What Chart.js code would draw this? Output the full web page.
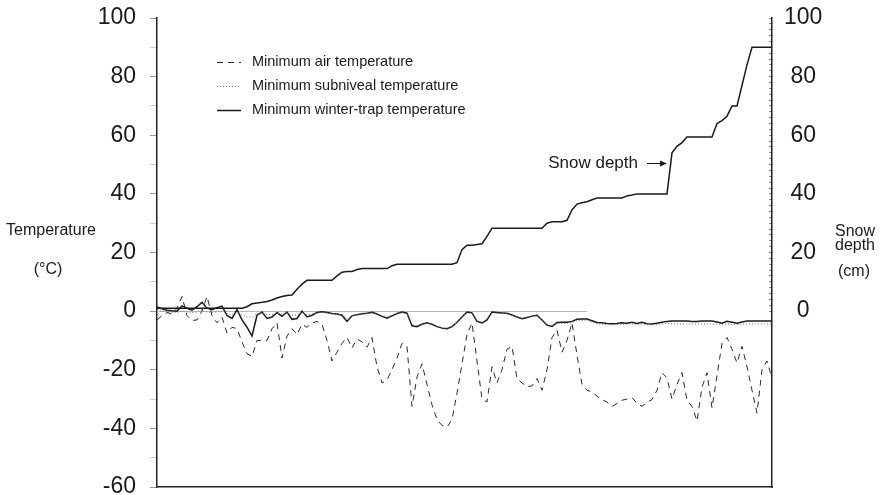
<!DOCTYPE html>
<html>
<head>
<meta charset="utf-8">
<script src="https://cdn.jsdelivr.net/npm/chart.js@4/dist/chart.umd.min.js"></script>
<style>
  html, body { margin: 0; padding: 0; background: #fff; }
  #wrap { width: 884px; height: 495px; }
</style>
</head>
<body>
<div id="wrap"><canvas id="c" width="884" height="495"></canvas></div>
<script>
// ---- data ----
const dayCount = 124;
const days = Array.from({length: dayCount}, (_, i) => i + 1);

const snowDepth = [
  1,1,1,1,1,1,1,1,1,1,
  1,1,1,1,1,1,1,1,1.5,2.5,
  2.8,3,3.3,3.8,4.5,5,5.3,5.5,7.5,9.2,
  10.5,10.5,10.5,10.5,10.5,10.5,12,13.3,13.5,13.5,
  14.2,14.5,14.5,14.5,14.5,14.5,14.5,15.5,16,16,
  16,16,16,16,16,16,16,16,16,16,
  16.5,21,22.5,22.5,22.7,23,25.5,28.3,28.3,28.3,
  28.3,28.3,28.3,28.3,28.3,28.3,28.3,28.3,30,30.5,
  30.5,30.5,31,34.5,36.5,37,37.3,38,38.6,38.6,
  38.6,38.6,38.6,38.6,39.3,39.6,40,40,40,40,
  40,40,40,54,56.2,57.5,59.4,59.4,59.4,59.4,
  59.4,59.4,64,65,66.5,70,70,77,84,90,
  90,90,90,90
];

const airTemp = [
  -3,-1.5,-0.5,-1,1,5,-1.5,-3.2,-3,0,
  5,-1.5,-4,-2,-7.5,-5.5,-6,-10.5,-14.5,-15.5,
  -10,-10,-10,-6,-4,-16,-8.5,-6,-8,-4.5,
  -5.5,-4,-3.5,-4.5,-10,-17,-14,-11,-9,-12.6,
  -9.5,-10.5,-12.3,-9,-19,-24.5,-23.5,-20,-16,-11,
  -12,-32.5,-22.5,-18,-25,-32,-37,-39,-39.6,-37,
  -28,-18,-8,-4,-17,-30,-31,-19,-24.5,-20,
  -13,-12,-23,-24.5,-25.8,-25.5,-23,-27,-20,-9,
  -6.5,-14,-10,-4,-15,-25,-27,-27.5,-29,-30.2,
  -31,-32.5,-31.5,-30.4,-30,-29.5,-31.5,-32.5,-31,-30.2,
  -27,-21,-22.8,-30,-25,-21,-30.4,-32.5,-37.5,-26,
  -21,-33,-22,-11,-9,-13,-17.7,-12,-19,-27,
  -34.8,-20,-17,-23
];

const subnivealTemp = [
  0.5,0,-0.3,-0.5,-0.5,0,-0.3,-0.5,-0.3,0.5,
  -0.3,-0.5,-0.3,0,-0.8,-1.2,-0.6,-1.2,-2,-2,
  -1,-0.6,-1.2,-1.2,-0.6,-1,-0.6,-1.4,-1.4,-0.6,
  -1.2,-1,-0.6,-0.5,-0.6,-0.8,-1,-1.2,-2.5,-1.6,
  -1.2,-1,-0.8,-0.6,-1,-1.5,-1.8,-1.4,-0.8,-0.5,
  -0.9,-4.5,-5,-4.5,-4,-4.5,-5.2,-5.6,-5.8,-5.2,
  -3.8,-2,-0.6,-0.8,-3.3,-3.8,-2.8,-0.6,-0.7,-0.8,
  -0.9,-1.4,-2,-2.4,-2,-1.7,-1.6,-3,-4.5,-5,
  -4.2,-4.2,-4.2,-4,-3.2,-3.2,-3.3,-3.8,-4.3,-4.5,
  -4.6,-4.7,-4.6,-4.5,-4.5,-4.3,-4.5,-4.4,-4.6,-4.7,
  -4.5,-4.4,-4.2,-4.3,-4.4,-4.4,-4.4,-4.4,-4.4,-4.4,
  -4.4,-4.4,-4.5,-4.5,-4.4,-4.5,-4.6,-4.5,-4.4,-4.4,
  -4.4,-4.4,-4.4,-4.4
];

const trapTemp = [
  1.4,0.8,0.3,0.1,0,1.8,1,0.3,1.5,3,
  1,0.5,1.2,1.7,-1.5,-2.5,0.5,-3,-5.5,-8.5,
  -1.4,-0.3,-2.5,-2,-0.5,-1.8,-0.3,-2.8,-2.5,0,
  -2,-1.4,-0.5,-0.2,-0.5,-0.8,-1,-1.4,-3.5,-1.6,
  -1.2,-0.9,-0.7,-0.4,-1,-1.8,-2.4,-1.6,-0.8,-0.3,
  -0.7,-5,-5.3,-4.5,-4,-4.5,-5.3,-5.8,-6,-5.3,
  -3.8,-2,-0.3,-0.6,-3.5,-4,-3,-0.3,-0.5,-0.6,
  -0.7,-1.3,-2,-2.6,-2.2,-1.7,-1.4,-3,-4.8,-5.2,
  -3.9,-3.8,-3.8,-3.5,-2.8,-2.7,-2.7,-3.3,-3.9,-4,
  -4.2,-4.3,-4.2,-4,-4.1,-3.8,-4.2,-3.8,-4.3,-4.4,
  -4.1,-3.8,-3.5,-3.4,-3.4,-3.4,-3.4,-3.5,-3.5,-3.4,
  -3.4,-3.4,-3.7,-4.1,-3.5,-3.8,-4.1,-3.7,-3.4,-3.4,
  -3.4,-3.4,-3.4,-3.4
];

const leftTicks = [-60, -40, -20, 0, 20, 40, 60, 80, 100];
const rightTicks = [0, 20, 40, 60, 80, 100];
const zeroLineEndDay = 86; // faint 0 °C reference line ends here (index)

const seriesLabels = {
  air: 'Minimum air temperature',
  sub: 'Minimum subniveal temperature',
  trap: 'Minimum winter-trap temperature',
  snow: 'Snow depth'
};

// ---- styling ----
const FONT = '"Liberation Sans", Arial, Helvetica, sans-serif';
const INK = '#1a1a1a';

const decor = {
  id: 'decor',
  beforeDatasetsDraw(chart) {
    const {ctx, chartArea, scales} = chart;
    const y0 = scales.y.getPixelForValue(0);
    const xEnd = scales.x.getPixelForValue(zeroLineEndDay);
    ctx.save();
    ctx.strokeStyle = '#b8b8b8';
    ctx.lineWidth = 1;
    ctx.beginPath();
    ctx.moveTo(chartArea.left, Math.round(y0) + 0.5);
    ctx.lineTo(xEnd, Math.round(y0) + 0.5);
    ctx.stroke();
    ctx.restore();
  },
  afterDraw(chart) {
    const {ctx} = chart;
    ctx.save();
    // legend
    const items = chart.data.datasets.filter(d => d.inLegend);
    const ys = [62, 86, 110];
    items.forEach((d, k) => {
      const y = ys[k];
      ctx.strokeStyle = d.borderColor;
      ctx.lineWidth = d.borderWidth;
      ctx.setLineDash(d.borderDash || []);
      ctx.beginPath();
      ctx.moveTo(217, y + 0.5);
      ctx.lineTo(241, y + 0.5);
      ctx.stroke();
      ctx.setLineDash([]);
      ctx.fillStyle = INK;
      ctx.font = '14.5px ' + FONT;
      ctx.textAlign = 'left';
      ctx.textBaseline = 'middle';
      ctx.fillText(d.label, 252, y);
    });
    // axis titles
    ctx.fillStyle = INK;
    ctx.font = '16px ' + FONT;
    ctx.textAlign = 'center';
    ctx.textBaseline = 'middle';
    ctx.fillText('Temperature', 51, 231);
    ctx.fillText('(°C)', 48, 270);
    ctx.fillText('Snow', 855, 232);
    ctx.fillText('depth', 855, 246);
    ctx.fillText('(cm)', 854, 272);
    // snow depth annotation
    ctx.font = '17px ' + FONT;
    ctx.textAlign = 'right';
    ctx.fillText('Snow depth', 638, 163);
    ctx.strokeStyle = INK;
    ctx.lineWidth = 1;
    ctx.beginPath();
    ctx.moveTo(647, 163.5);
    ctx.lineTo(662, 163.5);
    ctx.stroke();
    ctx.fillStyle = INK;
    ctx.beginPath();
    ctx.moveTo(667, 163.5);
    ctx.lineTo(660, 160.5);
    ctx.lineTo(660, 166.5);
    ctx.closePath();
    ctx.fill();
    ctx.restore();
  }
};

new Chart(document.getElementById('c'), {
  type: 'line',
  data: {
    labels: days,
    datasets: [
      {
        label: seriesLabels.snow, data: snowDepth, yAxisID: 'y2',
        borderColor: '#1a1a1a', borderWidth: 1.5, pointRadius: 0, tension: 0, fill: false
      },
      {
        label: seriesLabels.air, data: airTemp, yAxisID: 'y', inLegend: true,
        borderColor: '#2a2a2a', borderWidth: 1, borderDash: [6, 5], pointRadius: 0, tension: 0, fill: false
      },
      {
        label: seriesLabels.sub, data: subnivealTemp, yAxisID: 'y', inLegend: true,
        borderColor: '#777', borderWidth: 1, borderDash: [1, 2], pointRadius: 0, tension: 0, fill: false
      },
      {
        label: seriesLabels.trap, data: trapTemp, yAxisID: 'y', inLegend: true,
        borderColor: '#1a1a1a', borderWidth: 1.5, pointRadius: 0, tension: 0, fill: false
      }
    ]
  },
  options: {
    responsive: false,
    animation: false,
    layout: { padding: { top: 18, bottom: 8, left: 0, right: 0 } },
    plugins: { legend: { display: false }, tooltip: { enabled: false } },
    scales: {
      x: {
        type: 'category',
        offset: false,
        ticks: { display: false },
        grid: { display: false },
        border: { display: true, color: '#222', width: 1.5 },
        afterFit(s) { s.height = 0; s.paddingLeft = 0; s.paddingRight = 0; }
      },
      y: {
        position: 'left',
        min: -60, max: 100,
        ticks: {
          stepSize: 10, autoSkip: false, padding: 14, color: INK,
          font: { family: FONT, size: 23 },
          callback: v => leftTicks.includes(v) ? String(v) : ''
        },
        grid: {
          drawOnChartArea: false, drawTicks: true, tickLength: 7,
          tickColor: ctx => (ctx.tick && leftTicks.includes(ctx.tick.value)) ? '#999' : '#ccc'
        },
        border: { display: true, color: '#222', width: 1.5 },
        afterFit(s) { s.width = 157; s.paddingTop = 0; s.paddingBottom = 0; }
      },
      y2: {
        position: 'right',
        min: -60, max: 100,
        ticks: {
          stepSize: 2, autoSkip: false, padding: 15, color: INK, crossAlign: 'center',
          font: { family: FONT, size: 23 },
          callback: v => rightTicks.includes(v) ? String(v) : ''
        },
        grid: {
          drawOnChartArea: false, drawTicks: true, tickLength: -3,
          tickColor: ctx => (ctx.tick && ctx.tick.value >= 0) ? '#888' : 'rgba(0,0,0,0)'
        },
        border: { display: true, color: '#222', width: 1.5 },
        afterFit(s) { s.width = 112; s.paddingTop = 0; s.paddingBottom = 0; }
      }
    }
  },
  plugins: [decor]
});
</script>
</body>
</html>
